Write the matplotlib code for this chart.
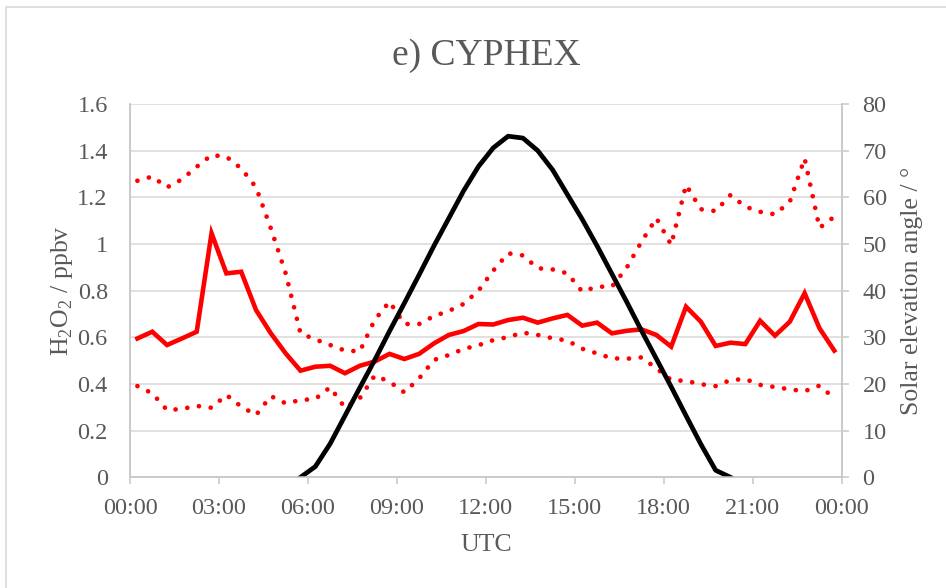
import numpy as np
import matplotlib
matplotlib.use("Agg")
import matplotlib.pyplot as plt
from matplotlib.ticker import FuncFormatter

plt.rcParams['font.family'] = ['Liberation Serif', 'DejaVu Serif']
plt.rcParams['mathtext.fontset'] = 'custom'
plt.rcParams['mathtext.rm'] = 'Liberation Serif'

# half-hourly bins (UTC)
times = ["00:15", "00:45", "01:15", "01:45", "02:15", "02:45", "03:15", "03:45",
         "04:15", "04:45", "05:15", "05:45", "06:15", "06:45", "07:15", "07:45",
         "08:15", "08:45", "09:15", "09:45", "10:15", "10:45", "11:15", "11:45",
         "12:15", "12:45", "13:15", "13:45", "14:15", "14:45", "15:15", "15:45",
         "16:15", "16:45", "17:15", "17:45", "18:15", "18:45", "19:15", "19:45",
         "20:15", "20:45", "21:15", "21:45", "22:15", "22:45", "23:15", "23:45"]

h2o2_median = [0.595, 0.624, 0.567, 0.595, 0.624, 1.046, 0.874, 0.881, 0.717, 0.617,
               0.531, 0.457, 0.474, 0.478, 0.446, 0.478, 0.496, 0.529, 0.507, 0.529,
               0.574, 0.610, 0.627, 0.657, 0.655, 0.674, 0.684, 0.663, 0.681, 0.696,
               0.650, 0.663, 0.617, 0.628, 0.634, 0.610, 0.560, 0.731, 0.667, 0.563,
               0.577, 0.571, 0.671, 0.607, 0.667, 0.789, 0.639, 0.543]

h2o2_upper = [1.271, 1.289, 1.243, 1.277, 1.331, 1.381, 1.374, 1.324, 1.243, 1.067,
              0.874, 0.617, 0.591, 0.567, 0.543, 0.540, 0.674, 0.753, 0.657, 0.657,
              0.691, 0.713, 0.743, 0.800, 0.886, 0.960, 0.951, 0.896, 0.891, 0.874,
              0.796, 0.817, 0.817, 0.898, 1.010, 1.111, 0.996, 1.253, 1.149, 1.141,
              1.210, 1.160, 1.138, 1.127, 1.181, 1.367, 1.069, 1.117]

h2o2_lower = [0.391, 0.360, 0.288, 0.293, 0.306, 0.298, 0.353, 0.303, 0.267, 0.348,
              0.317, 0.331, 0.336, 0.386, 0.298, 0.339, 0.436, 0.410, 0.364, 0.424,
              0.503, 0.524, 0.550, 0.566, 0.588, 0.601, 0.620, 0.610, 0.596, 0.586,
              0.551, 0.531, 0.510, 0.508, 0.514, 0.467, 0.417, 0.413, 0.399, 0.391,
              0.417, 0.421, 0.396, 0.387, 0.377, 0.369, 0.393, 0.339]

nan = np.nan
solar_elev = [nan, nan, nan, nan, nan, nan, nan, nan, nan, nan,
              nan, 0.0, 2.3, 7.2, 13.2, 19.2, 25.1, 31.3, 37.3, 43.4,
              49.6, 55.5, 61.4, 66.6, 70.6, 73.1, 72.7, 70.0, 65.9, 60.6,
              55.3, 49.6, 43.6, 37.6, 31.4, 25.4, 19.4, 13.2, 7.1, 1.5,
              0.0, nan, nan, nan, nan, nan, nan, nan]

tick_labels = ["00:00", "03:00", "06:00", "09:00", "12:00", "15:00", "18:00", "21:00", "00:00"]

hours = [int(t[:2]) + int(t[3:]) / 60 for t in times]

grey = "#595959"
axis_grey = "#c8c8c8"

fig = plt.figure(figsize=(9.46, 5.88), dpi=100)
ax = fig.add_axes([130 / 946, 1 - 477.3 / 588, (841.7 - 130) / 946, (477.3 - 104) / 588])
ax2 = ax.twinx()

dots = (0, (0.01, 2.5))
ax.plot(hours, h2o2_upper, color="red", lw=3.4, linestyle=dots, dash_capstyle="round")
ax.plot(hours, h2o2_lower, color="red", lw=3.4, linestyle=dots, dash_capstyle="round")
ax.plot(hours, h2o2_median, color="red", lw=3.3, solid_joinstyle="miter")
ax2.plot(hours, solar_elev, color="black", lw=3.4)

ax.set_xlim(0, 24)
ax.set_ylim(0, 1.6)
ax2.set_ylim(0, 80)
ax.set_xticks(range(0, 25, 3))
ax.set_xticklabels(tick_labels)
ax.set_yticks(np.arange(0, 1.61, 0.2))
ax.yaxis.set_major_formatter(FuncFormatter(lambda v, p: f"{v:g}"))
ax2.set_yticks(range(0, 81, 10))

ax.grid(axis="y", color="#d9d9d9", lw=1.1)
ax.set_axisbelow(True)

for a in (ax, ax2):
    a.spines["top"].set_visible(False)
    for s in ("left", "right", "bottom"):
        a.spines[s].set_color(axis_grey)
        a.spines[s].set_linewidth(1.1)

ax.tick_params(axis="x", length=5, width=1.1, color=axis_grey, labelcolor=grey,
               labelsize=17.5, pad=10)
ax.tick_params(axis="y", length=0, labelcolor=grey, labelsize=17.5, pad=16)
ax2.tick_params(axis="y", length=5, width=1.1, color=axis_grey, labelcolor=grey,
                labelsize=17.5, pad=10)

ax.set_ylabel(r"H$_{\mathregular{2}}$O$_{\mathregular{2}}$ / ppbv", color=grey,
              fontsize=18.5, labelpad=2)
ax2.set_ylabel("Solar elevation angle / °", color=grey, fontsize=18.5, labelpad=10)
ax.set_xlabel("UTC", color=grey, fontsize=18.5, labelpad=11)
ax.set_title("e) CYPHEX", color=grey, fontsize=27, pad=28)

# chart area border
fig.add_artist(plt.Rectangle((6 / 946, -0.05), 1.2, 1 - 7 / 588 + 0.05,
                             transform=fig.transFigure, fill=False,
                             edgecolor="#d9d9d9", lw=1.2))

fig.savefig("out.png", dpi=100)
